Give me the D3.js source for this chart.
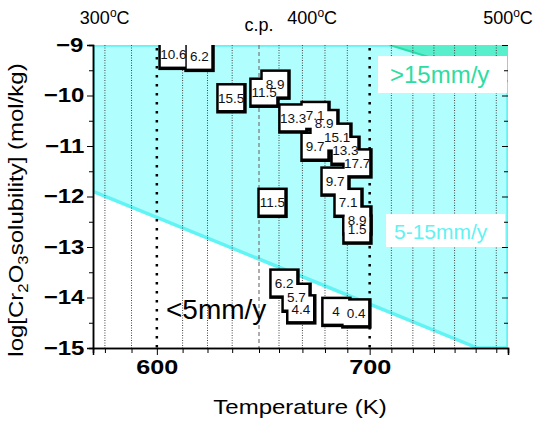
<!DOCTYPE html>
<html>
<head>
<meta charset="utf-8">
<script src="https://cdn.jsdelivr.net/npm/d3@7/dist/d3.min.js"></script>
<style>
body{margin:0;background:#fff;}
text{font-family:Arial,"Liberation Sans",sans-serif;}
.wide{transform-box:fill-box;transform-origin:center;transform:scaleX(1.2);}
</style>
</head>
<body>
<div id="canvas"></div>
<script>
// measured points: temperature (K), log solubility, corrosion rate label
var pointK   = [607.5, 619.7, 634.7, 650.2, 655.4, 663.8, 674.2, 678.4, 674.2, 684.5, 688.3, 693.9, 683.6, 689.7, 693.9, 693.9, 654.0, 659.6, 665.3, 667.5, 684.0, 693.4];
var pointLog = [-9.18, -9.22, -10.04, -9.93, -9.77, -10.44, -10.39, -10.55, -11.0, -10.82, -11.08, -11.33, -11.69, -12.11, -12.46, -12.64, -12.11, -13.71, -13.99, -14.22, -14.27, -14.30];
var pointRate = ["10.6", "6.2", "15.5", "11.5", "8.9", "13.3", "7.1", "8.9", "9.7", "15.1", "13.3", "17.7", "9.7", "7.1", "8.9", "1.5", "11.5", "6.2", "5.7", "4.4", "4", "0.4"];

// grid / axis
var gridK = [575.6, 588.1, 612.1, 623.8, 635.4, 657.4, 668.4, 679, 689.5, 710.2, 720.3, 730.2, 739.9, 749.8, 759.5];
var majorK = [600, 700];
var cpK = 648;
var yTicks = [-9, -10, -11, -12, -13, -14, -15];
var yMinor = [-9.5, -10.5, -11.5, -12.5, -13.5, -14.5];
var celsiusText = ["300", "400", "500"];
var celsiusK = [575.5, 673, 765];

// corrosion-rate boundaries
var lowLineK = [570, 750.7];
var lowLineLog = [-11.9, -15];
var highLineK = [709.4, 765];
var highLineLog = [-9, -9.72];

var W = 537, H = 423;
var mL = 93, mR = 508, mT = 45, mB = 348;

var svg = d3.select("#canvas").append("svg")
    .attr("width", W)
    .attr("height", H);

var x = d3.scaleLinear().domain([570, 765]).range([mL, mR]);
var y = d3.scaleLinear().domain([-9, -15]).range([mT, mB]);

svg.append("defs").append("clipPath").attr("id", "plotclip")
  .append("rect")
    .attr("x", mL).attr("y", mT)
    .attr("width", mR - mL).attr("height", mB - mT);

var plot = svg.append("g").attr("clip-path", "url(#plotclip)");

// 5-15 mm/y region (above the low line)
var lowPoly = [[570, -9], [765, -9], [765, -15], [lowLineK[1], lowLineLog[1]], [lowLineK[0], lowLineLog[0]]];
plot.append("path")
    .attr("d", "M" + lowPoly.map(function(p){ return [x(p[0]), y(p[1])]; }).join("L") + "Z")
    .style("fill", "#b0fefe")
    .style("stroke", "#62f4f4")
    .style("stroke-width", 3.5);

// >15 mm/y region
var highPoly = [[highLineK[0], highLineLog[0]], [765, -9], [highLineK[1], highLineLog[1]]];
plot.append("path")
    .attr("d", "M" + highPoly.map(function(p){ return [x(p[0]), y(p[1])]; }).join("L") + "Z")
    .style("fill", "#58efcc");
plot.append("line")
    .attr("x1", x(highLineK[0])).attr("y1", y(highLineLog[0]))
    .attr("x2", x(highLineK[1])).attr("y2", y(highLineLog[1]))
    .style("stroke", "#2bdca8").style("stroke-width", 2);

// white label backgrounds
svg.append("rect").attr("x", 378).attr("y", 56).attr("width", 129).attr("height", 37).style("fill", "#fff");
svg.append("rect").attr("x", 386).attr("y", 214).attr("width", 119).attr("height", 33).style("fill", "#fff");

// vertical grid lines
plot.selectAll("line.grid")
    .data(gridK)
    .enter()
    .append("line")
    .attr("class", "grid")
    .attr("x1", function(d){ return x(d); })
    .attr("x2", function(d){ return x(d); })
    .attr("y1", mT).attr("y2", mB)
    .style("stroke", "#444")
    .style("stroke-width", 1)
    .style("stroke-dasharray", "1,1.5");

plot.selectAll("line.major")
    .data(majorK)
    .enter()
    .append("line")
    .attr("class", "major")
    .attr("x1", function(d){ return x(d); })
    .attr("x2", function(d){ return x(d); })
    .attr("y1", mT + 3).attr("y2", mB)
    .style("stroke", "#000")
    .style("stroke-width", 2.5)
    .style("stroke-dasharray", "2.5,6.5");

plot.append("line")
    .attr("x1", x(cpK)).attr("x2", x(cpK))
    .attr("y1", mT).attr("y2", mB)
    .style("stroke", "#777")
    .style("stroke-width", 1.2)
    .style("stroke-dasharray", "4,3");

// region labels
svg.append("text").attr("x", 390).attr("y", 83)
    .attr("font-size", "24px").style("fill", "#2fdca0")
    .text(">15mm/y");
svg.append("text").attr("x", 394).attr("y", 239)
    .attr("font-size", "21px").style("fill", "#62f2f2")
    .text("5-15mm/y");
svg.append("text").attr("x", 166).attr("y", 319)
    .attr("font-size", "28px").style("fill", "#000")
    .text("<5mm/y");

// data boxes: outlines first, then fills, then labels
var boxes = plot.append("g");
var pts = pointK.map(function(k, i){ return {k: k, v: pointLog[i], r: pointRate[i]}; });

boxes.selectAll("rect.edge")
    .data(pts)
    .enter()
    .append("rect")
    .attr("class", "edge")
    .attr("x", function(d){ return x(d.k) - 14.5; })
    .attr("y", function(d){ return y(d.v) - 14.5; })
    .attr("width", 30.5).attr("height", 30.5)
    .style("fill", "#000");

boxes.selectAll("rect.face")
    .data(pts)
    .enter()
    .append("rect")
    .attr("class", "face")
    .attr("x", function(d){ return x(d.k) - 12; })
    .attr("y", function(d){ return y(d.v) - 12; })
    .attr("width", 24.5).attr("height", 24.5)
    .style("fill", "#fff");

boxes.selectAll("text")
    .data(pts)
    .enter()
    .append("text")
    .attr("x", function(d){ return x(d.k) + 0.5; })
    .attr("y", function(d){ return y(d.v) + 5; })
    .attr("text-anchor", "middle")
    .attr("font-size", "13.5px")
    .style("fill", "#111")
    .text(function(d){ return d.r; });

// axes
var yAxis = svg.append("g")
    .attr("transform", "translate(" + mL + ",0)")
    .call(d3.axisLeft(y).tickValues(yTicks).tickSize(6).tickPadding(6).tickFormat(d3.format("d")));
yAxis.selectAll("text").attr("font-size", "20px").attr("font-weight", "bold").style("fill", "#000")
    .attr("class", "wide");
svg.append("g")
    .attr("transform", "translate(" + mL + ",0)")
    .call(d3.axisLeft(y).tickValues(yMinor).tickSize(4).tickFormat(""));

var yRight = svg.append("g")
    .attr("transform", "translate(" + mR + ",0)")
    .call(d3.axisLeft(y).tickValues(yTicks).tickSize(6).tickFormat(""));
yRight.select(".domain").remove();
svg.append("g")
    .attr("transform", "translate(" + mR + ",0)")
    .call(d3.axisLeft(y).tickValues(yMinor).tickSize(4).tickFormat(""))
    .select(".domain").remove();

var xAxis = svg.append("g")
    .attr("transform", "translate(0," + mB + ")")
    .call(d3.axisBottom(x).tickValues(majorK).tickSize(7).tickPadding(4).tickFormat(d3.format("d")));
xAxis.selectAll("text").attr("font-size", "21px").attr("font-weight", "bold").style("fill", "#000")
    .attr("class", "wide");
svg.append("g")
    .attr("transform", "translate(0," + mB + ")")
    .call(d3.axisBottom(x).tickValues(gridK.concat([cpK])).tickSize(5).tickFormat(""));
svg.selectAll(".domain").style("stroke-width", 1.5);

// top temperature labels
var cl = svg.selectAll("text.cel")
    .data(celsiusText)
    .enter()
    .append("text")
    .attr("class", "cel")
    .attr("x", function(d, i){ return x(celsiusK[i]); })
    .attr("y", 24)
    .attr("text-anchor", "middle")
    .attr("font-size", "18px");
cl.append("tspan").text(function(d){ return d; });
cl.append("tspan").attr("dy", -7).attr("font-size", "12px").text("o");
cl.append("tspan").attr("dy", 7).text("C");

svg.append("text")
    .attr("x", x(cpK)).attr("y", 31)
    .attr("text-anchor", "middle")
    .attr("font-size", "18px")
    .text("c.p.");

// axis titles
svg.append("text")
    .attr("x", 300).attr("y", 414)
    .attr("text-anchor", "middle")
    .attr("font-size", "20px")
    .attr("class", "wide")
    .text("Temperature (K)");

var yt = svg.append("g")
    .attr("transform", "translate(23,210) rotate(-90)")
  .append("text")
    .attr("text-anchor", "middle")
    .attr("font-size", "20px")
    .attr("class", "wide");
yt.append("tspan").text("log[Cr");
yt.append("tspan").attr("dy", 5).attr("font-size", "14px").text("2");
yt.append("tspan").attr("dy", -5).text("O");
yt.append("tspan").attr("dy", 5).attr("font-size", "14px").text("3");
yt.append("tspan").attr("dy", -5).text("solubility] (mol/kg)");
</script>
</body>
</html>
